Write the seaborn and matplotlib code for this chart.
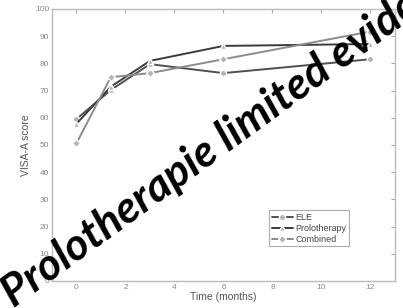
import pandas as pd
import seaborn as sns
import matplotlib.pyplot as plt

sns.set_style('white')
plt.rcParams['font.family'] = ['Liberation Sans', 'DejaVu Sans']

# data
time = [0, 1.4, 3, 6, 12]
ele = [59.5, 70.2, 79.7, 76.4, 81.5]
prolo = [57.8, 71.4, 80.9, 86.4, 87.1]
combined = [50.6, 74.9, 76.4, 81.5, 91.7]
groups = ['ELE', 'Prolotherapy', 'Combined']

df = pd.DataFrame({
    'time': time * 3,
    'score': ele + prolo + combined,
    'group': [g for g in groups for _ in time],
})

fig = plt.figure(figsize=(4.03, 3.08), dpi=100)
ax = fig.add_axes([0.129, 0.088, 0.851, 0.883])

palette = {'ELE': '#505050', 'Prolotherapy': '#3c3c3c', 'Combined': '#8c8c8c'}
markers = {'ELE': 'o', 'Prolotherapy': '^', 'Combined': 'D'}
sns.lineplot(data=df, x='time', y='score', hue='group', style='group',
             markers=markers, dashes=False, palette=palette, ax=ax,
             linewidth=1.4, markersize=4.5, markeredgewidth=1,
             markerfacecolor='#b4b4b4')

ax.set_xlim(-1, 13)
ax.set_ylim(0, 100)
ax.set_xticks(range(0, 13, 2))
ax.set_yticks(range(0, 101, 10))
ax.tick_params(direction='in', length=3, labelsize=6, colors='#aaaaaa',
               labelcolor='#888888', top=True, right=True,
               labeltop=False, labelright=False, pad=2)
for s in ax.spines.values():
    s.set_color('#bbbbbb')
    s.set_linewidth(1)
ax.set_xlabel('Time (months)', fontsize=7.5, color='#555555', labelpad=1)
ax.set_ylabel('VISA-A score', fontsize=7.5, color='#555555', labelpad=3)

leg = ax.legend(loc='lower right', bbox_to_anchor=(0.88, 0.11), fontsize=6.5,
                frameon=True, fancybox=False, handlelength=2.3,
                borderpad=0.3, labelspacing=0.2, handletextpad=0.3)
leg.get_frame().set_edgecolor('#999999')
leg.get_frame().set_linewidth(0.8)
for t in leg.get_texts():
    t.set_color('#444444')

# watermark
fig.text(0.035, 0.0, 'Prolotherapie limited evidence', fontsize=32,
         fontweight='bold', fontstyle='italic', family='Lato',
         rotation=36, rotation_mode='anchor', ha='left', va='baseline',
         color='black')

plt.savefig('out.png', dpi=100)
